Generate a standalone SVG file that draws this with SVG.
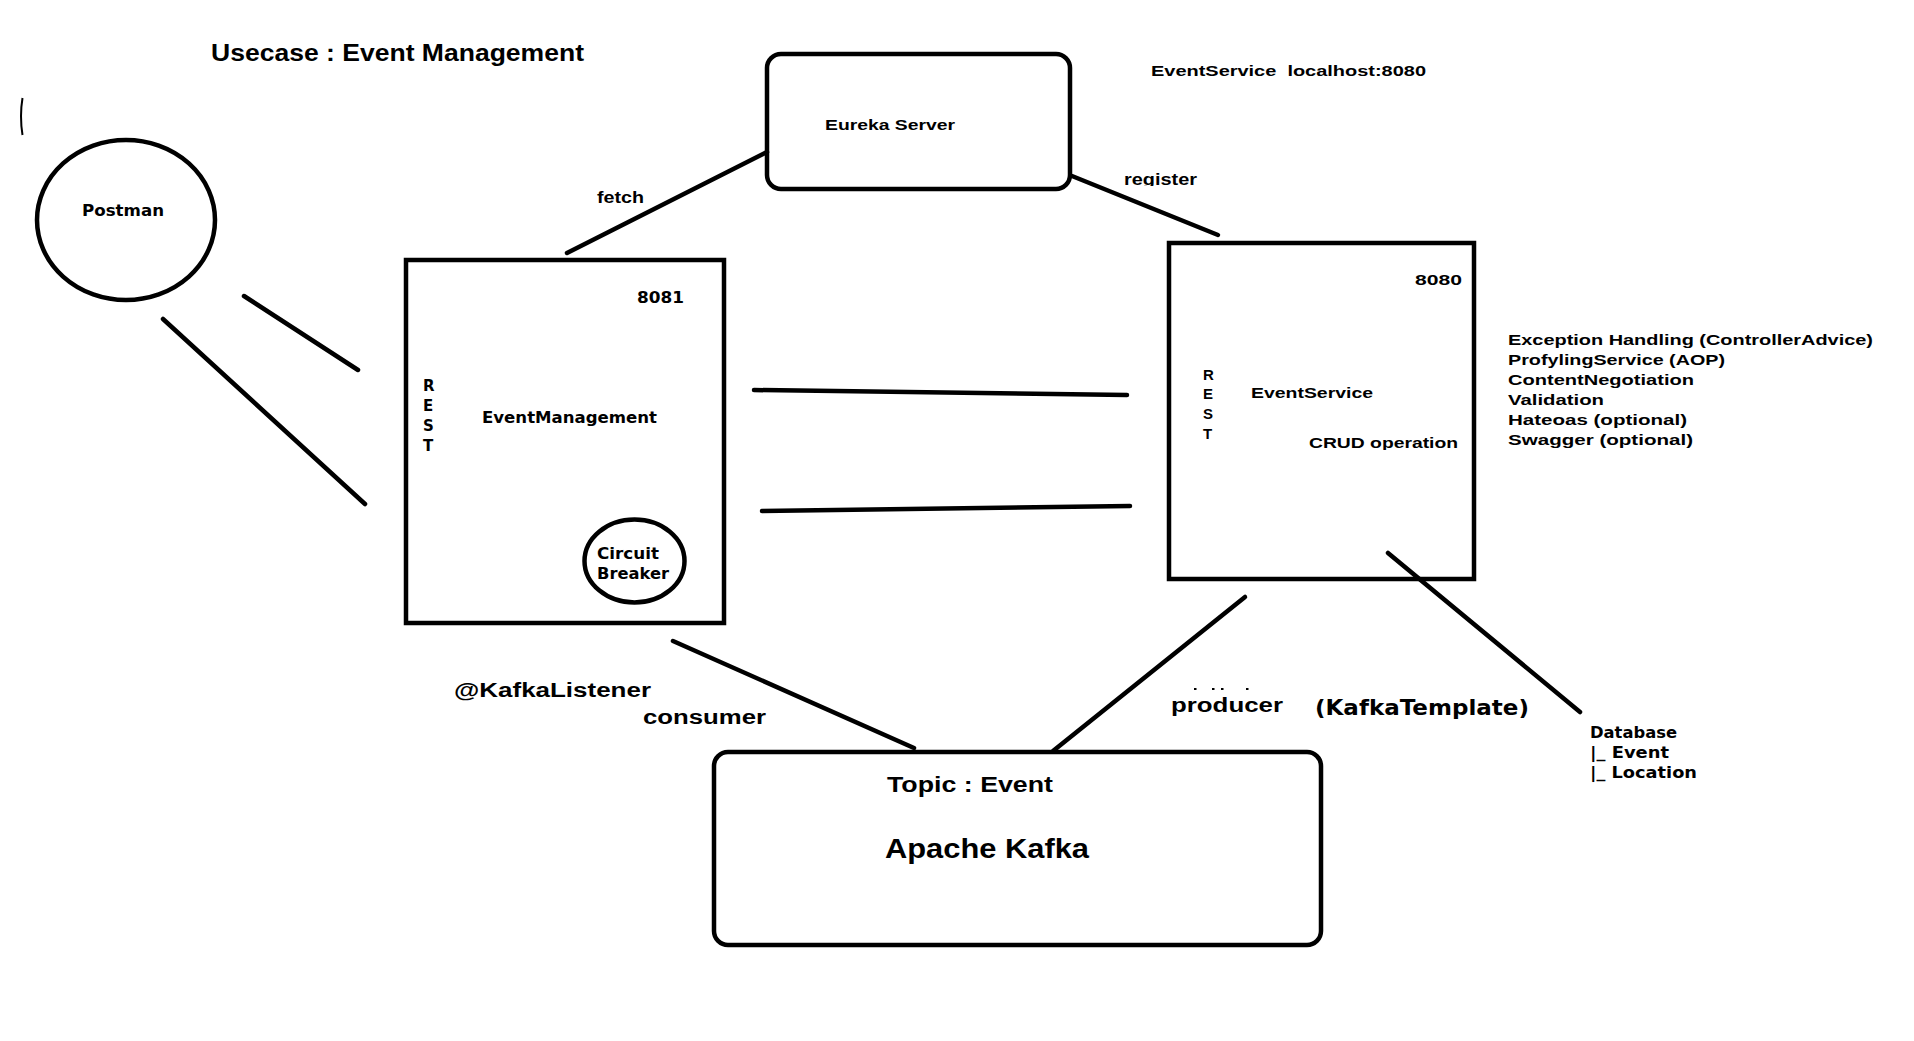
<svg xmlns="http://www.w3.org/2000/svg" width="1914" height="1041" viewBox="0 0 1914 1041">
<style>
  .bg { fill: #ffffff; }
  .box { fill: none; stroke: #000; stroke-width: 4.5; }
  .ln { stroke: #000; stroke-width: 4.5; stroke-linecap: round; fill: none; }
  .t { font-family: "Liberation Sans", Arial, sans-serif; font-weight: bold; fill: #000; }
  .v { font-family: "DejaVu Sans", Verdana, sans-serif; font-weight: bold; fill: #000; }
</style>
<defs>
  <clipPath id="clipReg"><rect x="1100" y="160" width="120" height="26"/></clipPath>
  <clipPath id="clipCrud"><rect x="1290" y="420" width="180" height="30"/></clipPath>
</defs>
<rect class="bg" x="0" y="0" width="1914" height="1041"/>

<text class="t" x="211" y="61" font-size="23" textLength="373" lengthAdjust="spacingAndGlyphs">Usecase : Event Management</text>
<path d="M22.5,98 Q19.5,116 22.5,135" stroke="#000" stroke-width="2" fill="none"/>
<text class="t" x="1151" y="76" font-size="15" textLength="275" lengthAdjust="spacingAndGlyphs" xml:space="preserve">EventService  localhost:8080</text>

<g id="connectors">
  <line class="ln" x1="244" y1="296" x2="358" y2="370"/>
  <line class="ln" x1="163" y1="319" x2="365" y2="504"/>
  <line class="ln" x1="567" y1="253" x2="767" y2="152"/>
  <line class="ln" x1="1072" y1="176" x2="1218" y2="235"/>
  <line class="ln" x1="754" y1="390" x2="1127" y2="395"/>
  <line class="ln" x1="762" y1="511" x2="1130" y2="506"/>
  <line class="ln" x1="673" y1="641" x2="914" y2="748"/>
  <line class="ln" x1="1245" y1="597" x2="1053" y2="751"/>
  <line class="ln" x1="1388" y1="553" x2="1580" y2="712"/>
  <text class="t" x="597" y="203" font-size="16" textLength="47" lengthAdjust="spacingAndGlyphs">fetch</text>
  <g clip-path="url(#clipReg)">
    <text class="t" x="1124" y="185" font-size="16" textLength="73" lengthAdjust="spacingAndGlyphs">register</text>
  </g>
  <text class="t" x="454" y="697" font-size="20" textLength="197" lengthAdjust="spacingAndGlyphs">@KafkaListener</text>
  <text class="t" x="643" y="724" font-size="20" textLength="123" lengthAdjust="spacingAndGlyphs">consumer</text>
  <g fill="#000">
    <rect x="1194" y="688" width="2.5" height="2"/>
    <rect x="1212" y="688" width="2.5" height="2"/>
    <rect x="1221" y="688" width="2.5" height="2"/>
    <rect x="1246" y="688" width="2.5" height="2"/>
  </g>
  <text class="t" x="1171" y="712" font-size="20" textLength="112" lengthAdjust="spacingAndGlyphs">producer</text>
  <text class="v" x="1315" y="715" font-size="21" textLength="214" lengthAdjust="spacingAndGlyphs">(KafkaTemplate)</text>
</g>

<g id="postman">
  <ellipse class="box" cx="126" cy="220" rx="89" ry="80"/>
  <text class="v" x="82" y="216" font-size="16" textLength="82" lengthAdjust="spacingAndGlyphs">Postman</text>
</g>

<g id="eureka-server">
  <rect class="box" x="767" y="54" width="303" height="135" rx="14"/>
  <text class="t" x="825" y="130" font-size="15" textLength="130" lengthAdjust="spacingAndGlyphs">Eureka Server</text>
</g>

<g id="event-management">
  <rect class="box" x="406" y="260" width="318" height="363"/>
  <text class="v" x="637" y="303" font-size="15" textLength="47" lengthAdjust="spacingAndGlyphs">8081</text>
  <text class="v" x="423" y="391" font-size="15">R</text>
  <text class="v" x="423" y="411" font-size="15">E</text>
  <text class="v" x="423" y="431" font-size="15">S</text>
  <text class="v" x="423" y="451" font-size="15">T</text>
  <text class="v" x="482" y="423" font-size="15" textLength="175" lengthAdjust="spacingAndGlyphs">EventManagement</text>
</g>

<g id="circuit-breaker">
  <ellipse class="box" cx="634.5" cy="561" rx="50" ry="41.5"/>
  <text class="v" x="597" y="559" font-size="15" textLength="62" lengthAdjust="spacingAndGlyphs">Circuit</text>
  <text class="v" x="597" y="579" font-size="15" textLength="72" lengthAdjust="spacingAndGlyphs">Breaker</text>
</g>

<g id="event-service">
  <rect class="box" x="1169" y="243" width="305" height="336"/>
  <text class="t" x="1415" y="285" font-size="15" textLength="47" lengthAdjust="spacingAndGlyphs">8080</text>
  <text class="t" x="1203" y="380" font-size="15">R</text>
  <text class="t" x="1203" y="399" font-size="15">E</text>
  <text class="t" x="1203" y="419" font-size="15">S</text>
  <text class="t" x="1203" y="439" font-size="15">T</text>
  <text class="t" x="1251" y="398" font-size="15" textLength="122" lengthAdjust="spacingAndGlyphs">EventService</text>
  <g clip-path="url(#clipCrud)">
    <text class="t" x="1309" y="448" font-size="15" textLength="149" lengthAdjust="spacingAndGlyphs">CRUD operation</text>
  </g>
</g>

<g id="features">
  <text class="t" x="1508" y="345" font-size="15" textLength="365" lengthAdjust="spacingAndGlyphs">Exception Handling (ControllerAdvice)</text>
  <text class="t" x="1508" y="365" font-size="15" textLength="217" lengthAdjust="spacingAndGlyphs">ProfylingService (AOP)</text>
  <text class="t" x="1508" y="385" font-size="15" textLength="186" lengthAdjust="spacingAndGlyphs">ContentNegotiation</text>
  <text class="t" x="1508" y="405" font-size="15" textLength="96" lengthAdjust="spacingAndGlyphs">Validation</text>
  <text class="t" x="1508" y="425" font-size="15" textLength="179" lengthAdjust="spacingAndGlyphs">Hateoas (optional)</text>
  <text class="t" x="1508" y="445" font-size="15" textLength="185" lengthAdjust="spacingAndGlyphs">Swagger (optional)</text>
</g>

<g id="database">
  <text class="v" x="1590" y="738" font-size="15" textLength="87" lengthAdjust="spacingAndGlyphs">Database</text>
  <text class="v" x="1590" y="758" font-size="15" textLength="79" lengthAdjust="spacingAndGlyphs">|_ Event</text>
  <text class="v" x="1590" y="778" font-size="15" textLength="107" lengthAdjust="spacingAndGlyphs">|_ Location</text>
</g>

<g id="apache-kafka">
  <rect class="box" x="714" y="752" width="607" height="193" rx="14"/>
  <text class="t" x="887" y="792" font-size="22" textLength="166" lengthAdjust="spacingAndGlyphs">Topic : Event</text>
  <text class="t" x="885" y="858" font-size="27" textLength="204" lengthAdjust="spacingAndGlyphs">Apache Kafka</text>
</g>
</svg>
